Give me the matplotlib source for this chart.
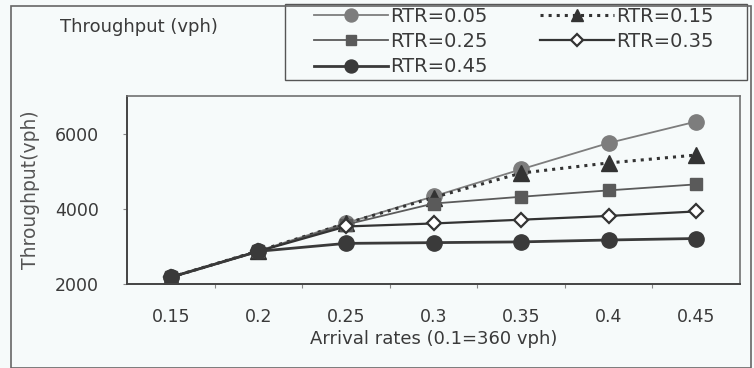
import matplotlib.pyplot as plt
from matplotlib.patches import Rectangle

plt.rcParams['font.family'] = ['DejaVu Sans']

# data
rates = ['0.15', '0.2', '0.25', '0.3', '0.35', '0.4', '0.45']
rtr005 = [2180, 2880, 3620, 4330, 5050, 5750, 6320]
rtr015 = [2180, 2880, 3610, 4300, 4950, 5220, 5430]
rtr025 = [2180, 2870, 3580, 4140, 4320, 4490, 4650]
rtr035 = [2180, 2870, 3530, 3610, 3710, 3810, 3930]
rtr045 = [2180, 2870, 3080, 3100, 3120, 3170, 3210]

bg = '#f6fafa'
txt = '#3a3a3a'
fs = 12.5
fig = plt.figure(figsize=(7.54, 3.68), dpi=100, facecolor=bg)
ax = fig.add_axes([127/754, 1-284/368, (740-127)/754, (284-96)/368])
ax.set_facecolor(bg)

x = range(len(rates))
l1, = ax.plot(x, rtr005, '-o', color='#7d7d7d', lw=1.3, ms=11, label='RTR=0.05')
l2, = ax.plot(x, rtr015, ':^', color='#333333', lw=2.2, ms=11, label='RTR=0.15')
l3, = ax.plot(x, rtr025, '-s', color='#5a5a5a', lw=1.3, ms=9, label='RTR=0.25')
l4, = ax.plot(x, rtr035, '-D', color='#333333', lw=1.6, ms=7, mfc='white', mew=1.6, label='RTR=0.35')
l5, = ax.plot(x, rtr045, '-o', color='#3a3a3a', lw=2, ms=11, label='RTR=0.45')

ax.set_xlim(-0.5, 6.5)
ax.set_ylim(2000, 7000)
ax.set_yticks([2000, 4000, 6000])
ax.set_xticks([i + 0.5 for i in range(6)])
ax.set_xticklabels([])
ax.set_xticks(list(x), minor=True)
ax.set_xticklabels(rates, minor=True, fontsize=fs, color=txt)
ax.tick_params(axis='x', which='minor', length=0, pad=17)
ax.tick_params(axis='x', which='major', length=3, color='#888888')
ax.tick_params(axis='y', length=3, color='#888888', pad=17, labelsize=fs, labelcolor=txt)
for s in ['left', 'bottom']:
    ax.spines[s].set_color('#444444')
    ax.spines[s].set_linewidth(1.4)
for s in ['top', 'right']:
    ax.spines[s].set_color('#707070')
    ax.spines[s].set_linewidth(1.2)
ax.set_xlabel('Arrival rates (0.1=360 vph)', fontsize=13, color=txt, labelpad=3)
ax.set_ylabel('Throughput(vph)', fontsize=13.5, color='#555555', labelpad=11)

fig.text(60/754, 1-27/368, 'Throughput (vph)', fontsize=13, color=txt, va='center')

# legend box drawn separately so its size matches the original
fig.patches.append(Rectangle((285/754, 1-80/368), (747-285)/754, 76/368, transform=fig.transFigure,
                             facecolor=bg, edgecolor='#555555', lw=1.0))
leg = fig.legend(handles=[l1, l3, l5, l2, l4], ncol=2, loc='upper left',
                 bbox_to_anchor=(314/754, 1-7/368), fontsize=14, handlelength=3.8,
                 numpoints=1, frameon=False, borderaxespad=0, borderpad=0,
                 labelspacing=0.32, columnspacing=2.7, handletextpad=0.1,
                 markerscale=0.85, labelcolor=txt)

fig.patches.append(Rectangle((11/754, 0), (751-11)/754, 1-6/368, transform=fig.transFigure,
                             fill=False, edgecolor='#666666', lw=1.2))

fig.savefig('out.png', dpi=100, facecolor=bg)
